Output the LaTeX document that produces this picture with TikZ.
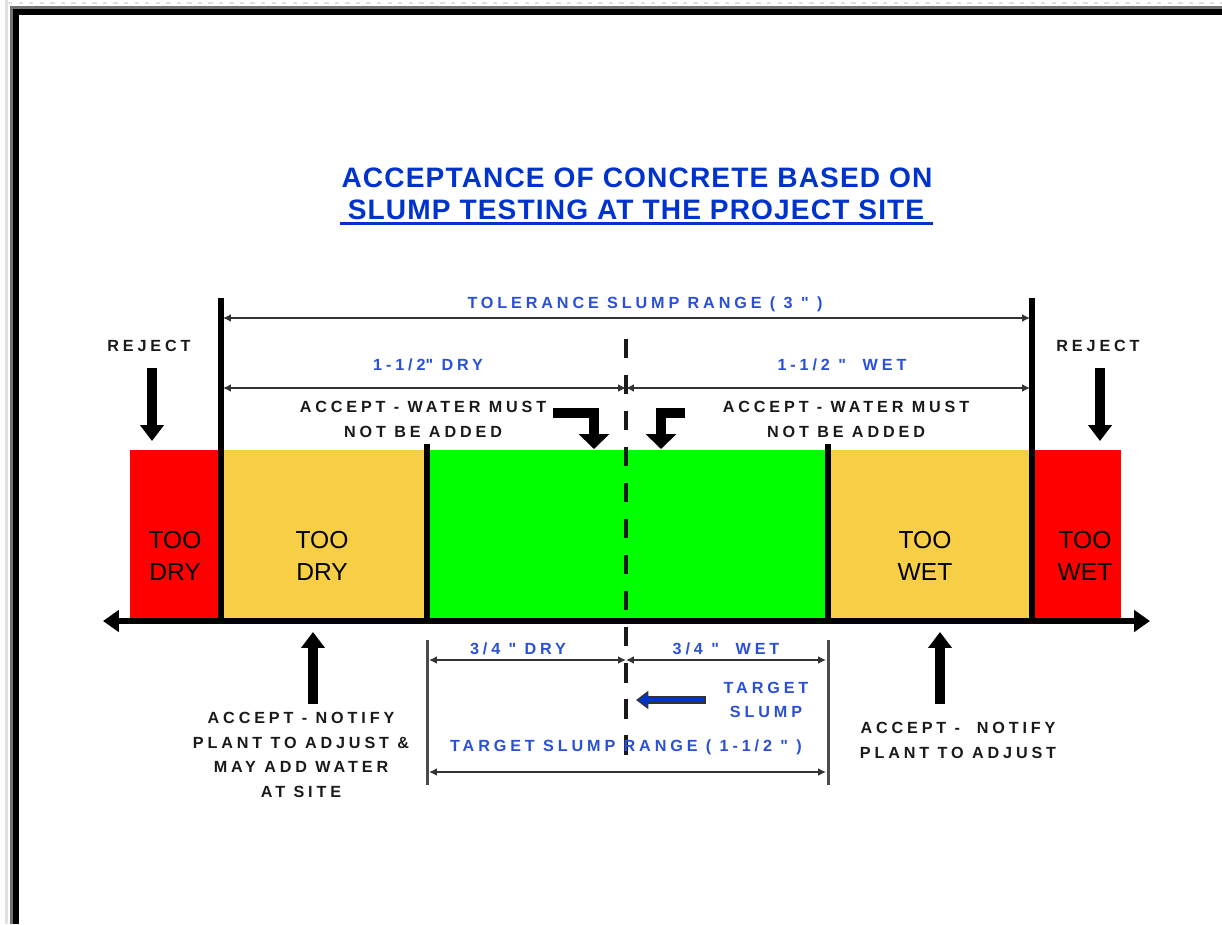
\documentclass[tikz,border=0pt]{standalone}
\usepackage{fontspec}
\setmainfont{Liberation Sans}
\usetikzlibrary{arrows.meta}
\definecolor{tred}{HTML}{FF0000}
\definecolor{torange}{HTML}{F7CF46}
\definecolor{tgreen}{HTML}{00FF00}
\definecolor{tblue}{HTML}{0033CC}
\definecolor{lblue}{HTML}{2A50D8}
\definecolor{ink}{HTML}{1A1A1A}
\newcommand{\qd}{\XeTeXglyph\numexpr\XeTeXcharglyph"22\relax}
\begin{document}
\begin{tikzpicture}[x=0.02cm,y=-0.02cm,
  lbl/.style={font=\fontsize{9.2}{14}\selectfont\bfseries\addfontfeature{LetterSpace=24}, text=ink, align=center, inner sep=0},
  blbl/.style={lbl, text=lblue},
  big/.style={font=\fontsize{14}{18}\selectfont, align=center, inner sep=0},
  ttl/.style={font=\fontsize{16}{18}\selectfont\bfseries\addfontfeature{LetterSpace=4}, text=tblue, align=center, inner sep=0},
  dimline/.style={draw=black!80, line width=1.5pt, {Latex[length=4.5pt,width=4.5pt]}-{Latex[length=4.5pt,width=4.5pt]}},
  tick/.style={draw=black!70, line width=1.7pt},
  bound/.style={draw=black, line width=2.9pt},
  fatarrow/.style={draw=black, line width=5.6pt, -{Triangle[length=9pt,width=13pt]}},
  bentarrow/.style={draw=black, line width=6pt, miter limit=10, -{Triangle[length=8.5pt,width=17pt]}},
  axisline/.style={draw=black, line width=3.4pt, {Triangle[length=9pt,width=12pt]}-{Triangle[length=9pt,width=12pt]}},
  centerline/.style={draw=ink, line width=2.4pt, dash pattern=on 11pt off 9.5pt}
]
\useasboundingbox (0,0) rectangle (1222,924);
\fill[white] (0,0) rectangle (1222,924);
% frame
\draw[black!12, line width=1.7pt, dash pattern=on 2.5pt off 3.5pt] (8,3) -- (1222,3);
\draw[black!12, line width=1.7pt] (6.5,0) -- (6.5,924);
\draw[black!55, line width=1.7pt] (10,7.5) -- (1222,7.5);
\draw[black!55, line width=1.7pt] (11.5,7.5) -- (11.5,924);
\draw[black, line width=3.4pt] (13,12) -- (1222,12);
\draw[black, line width=3.4pt] (16,9) -- (16,924);

% title
\node[ttl] (t1) at (637,178) {ACCEPTANCE OF CONCRETE BASED ON};
\node[ttl] (t2) at (636,210) {SLUMP TESTING AT THE PROJECT SITE};
\coordinate (ulL) at (340,223.5);
\coordinate (ulR) at (933,223.5);
\draw[tblue, line width=1.8pt] (ulL) -- (ulR);

% coloured zones
\fill[tred] (130,450) rectangle (221,620);
\fill[torange] (221,450) rectangle (427,620);
\fill[tgreen] (427,450) rectangle (828,620);
\fill[torange] (828,450) rectangle (1032,620);
\fill[tred] (1032,450) rectangle (1121,620);

\node[big] (z1) at (175,556) {TOO\\DRY};
\node[big] (z2) at (322,556) {TOO\\DRY};
\node[big] (z3) at (925,556) {TOO\\WET};
\node[big] (z4) at (1085,556) {TOO\\WET};

% boundaries
\coordinate (bLtop) at (221,298); \coordinate (bLbot) at (221,622);
\coordinate (bRtop) at (1032,298); \coordinate (bRbot) at (1032,622);
\coordinate (gLtop) at (427,444); \coordinate (gLbot) at (427,622);
\coordinate (gRtop) at (828,444); \coordinate (gRbot) at (828,622);
\draw[bound] (bLtop) -- (bLbot);
\draw[bound] (bRtop) -- (bRbot);
\draw[bound] (gLtop) -- (gLbot);
\draw[bound] (gRtop) -- (gRbot);

% axis
\coordinate (axL) at (103,621);
\coordinate (axR) at (1150,621);
\draw[axisline] (axL) -- (axR);

% centre dashed line
\coordinate (cTop) at (626,339);
\coordinate (cBot) at (626,762);
\draw[centerline] (cTop) -- (cBot);

% top dimensions
\coordinate (tolL) at (223,318); \coordinate (tolR) at (1030,318);
\draw[dimline] (tolL) -- (tolR);
\node[blbl] (tol) at (645,304) {TOLERANCE SLUMP RANGE ( 3 \qd\ )};
\coordinate (dryL) at (223,388); \coordinate (mid1) at (626,388); \coordinate (wetR) at (1030,388);
\draw[dimline] (dryL) -- (mid1);
\draw[dimline] (mid1) -- (wetR);
\node[blbl] (dry15) at (428,365) {1-1/2\qd\ DRY};
\node[blbl] (wet15) at (842,365) {1-1/2 \qd\ \ WET};

% reject
\node[lbl] (rejL) at (149,346) {REJECT};
\node[lbl] (rejR) at (1098,346) {REJECT};
\coordinate (rjL1) at (152,368); \coordinate (rjL2) at (152,441);
\coordinate (rjR1) at (1100,368); \coordinate (rjR2) at (1100,441);
\draw[fatarrow] (rjL1) -- (rjL2);
\draw[fatarrow] (rjR1) -- (rjR2);

% accept - water must not be added
\node[lbl] (awL) at (423,419.5) {ACCEPT - WATER MUST\\NOT BE ADDED};
\node[lbl] (awR) at (846,419.5) {ACCEPT - WATER MUST\\NOT BE ADDED};
\coordinate (baL1) at (553,413); \coordinate (baL2) at (594,449);
\coordinate (baR1) at (685,413); \coordinate (baR2) at (661,449);
\draw[bentarrow] (baL1) -| (baL2);
\draw[bentarrow] (baR1) -| (baR2);

% bottom accept - notify
\coordinate (upL1) at (313,704); \coordinate (upL2) at (313,632);
\coordinate (upR1) at (940,704); \coordinate (upR2) at (940,632);
\draw[fatarrow] (upL1) -- (upL2);
\draw[fatarrow] (upR1) -- (upR2);
\node[lbl] (anL) at (301,755) {ACCEPT - NOTIFY\\PLANT TO ADJUST \&\\MAY ADD WATER\\AT SITE};
\node[lbl] (anR) at (958,740.5) {ACCEPT -\ \ NOTIFY\\PLANT TO ADJUST};

% bottom dimensions
\coordinate (tkL1) at (427,640); \coordinate (tkL2) at (427,785);
\coordinate (tkR1) at (828,640); \coordinate (tkR2) at (828,785);
\draw[tick] (tkL1) -- (tkL2);
\draw[tick] (tkR1) -- (tkR2);
\coordinate (qL) at (429,660); \coordinate (qM) at (626,660); \coordinate (qR) at (826,660);
\draw[dimline] (qL) -- (qM);
\draw[dimline] (qM) -- (qR);
\node[blbl] (dry34) at (518,649) {3/4 \qd\ DRY};
\node[blbl] (wet34) at (726,649) {3/4 \qd\ \ WET};
\coordinate (trL) at (429,772); \coordinate (trR) at (826,772);
\draw[dimline] (trL) -- (trR);
\node[blbl] (trange) at (626,747) {TARGET SLUMP RANGE ( 1-1/2 \qd\ )};

% target slump
\node[blbl] (tslump) at (766,700) {TARGET\\SLUMP};
\coordinate (ts1) at (706,700); \coordinate (ts2) at (636,700);
\draw[draw=black!80, line width=4.2pt, -{Triangle[length=7pt,width=10pt]}] (ts1) -- (ts2);
\draw[draw=tblue, line width=2pt, -{Triangle[length=5.5pt,width=7pt]}] ([xshift=-1pt]ts1) -- ([xshift=1.3pt]ts2);
\end{tikzpicture}
\end{document}
